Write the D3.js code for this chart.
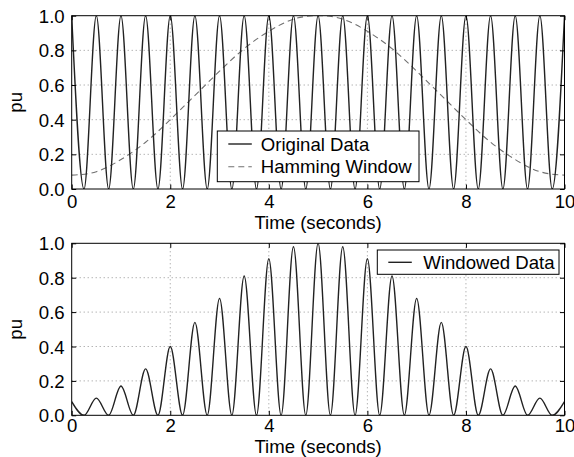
<!DOCTYPE html>
<html>
<head>
<meta charset="utf-8">
<script src="https://cdn.jsdelivr.net/npm/d3@7"></script>
<style>
  html, body { margin: 0; padding: 0; background: #fff; }
  svg { display: block; }
  text { font-family: "Liberation Sans", Arial, Helvetica, sans-serif; fill: #000; }
</style>
</head>
<body>
<svg id="chart" width="574" height="457"></svg>
<script>
// Signal extrema: peaks every 0.5 s, troughs half-way between them
const peakTimes = [0, 0.5, 1, 1.5, 2, 2.5, 3, 3.5, 4, 4.5, 5, 5.5, 6, 6.5, 7, 7.5, 8, 8.5, 9, 9.5, 10];
const troughTimes = [0.25, 0.75, 1.25, 1.75, 2.25, 2.75, 3.25, 3.75, 4.25, 4.75,
                     5.25, 5.75, 6.25, 6.75, 7.25, 7.75, 8.25, 8.75, 9.25, 9.75];

// Original data: full-scale oscillation between 0 and 1 pu
const originalPeaks = [1, 1, 1, 1, 1, 1, 1, 1, 1, 1, 1, 1, 1, 1, 1, 1, 1, 1, 1, 1, 1];
const originalTroughs = [0, 0, 0, 0, 0, 0, 0, 0, 0, 0, 0, 0, 0, 0, 0, 0, 0, 0, 0, 0];

// Hamming window, sampled at the peak times
const hammingValues = [0.08, 0.10, 0.17, 0.27, 0.40, 0.54, 0.68, 0.81, 0.91, 0.98, 1.00,
                       0.98, 0.91, 0.81, 0.68, 0.54, 0.40, 0.27, 0.17, 0.10, 0.08];

// Windowed data envelope peaks and troughs
const windowedPeaks = [0.08, 0.10, 0.17, 0.27, 0.40, 0.54, 0.68, 0.81, 0.91, 0.98, 1.00,
                       0.98, 0.91, 0.81, 0.68, 0.54, 0.40, 0.27, 0.17, 0.10, 0.08];
const windowedTroughs = [0, 0, 0, 0, 0, 0, 0, 0, 0, 0, 0, 0, 0, 0, 0, 0, 0, 0, 0, 0];

const xTicks = [0, 2, 4, 6, 8, 10];
const yTicks = [0, 0.2, 0.4, 0.6, 0.8, 1.0];
const xLabel = "Time (seconds)";
const yLabel = "pu";

// Merge peaks and troughs into one time-ordered series
function extremaSeries(peaks, troughs) {
  const pts = peakTimes.map((t, i) => [t, peaks[i]])
    .concat(troughTimes.map((t, i) => [t, troughs[i]]));
  return pts.sort((a, b) => a[0] - b[0]);
}

const svg = d3.select("#chart");
const left = 71.7, right = 564.5;
const panels = [
  { top: 15.7, bottom: 189, tickOffset: 19, labelOffset: 40 },
  { top: 243.3, bottom: 415.3, tickOffset: 17.2, labelOffset: 37.8 }
];

const FONT = 18.6;
const FAMILY = '"Liberation Sans", Arial, sans-serif';

function drawPanel(p, idx, lines, legend) {
  const x = d3.scaleLinear().domain([0, 10]).range([left, right]);
  const y = d3.scaleLinear().domain([0, 1]).range([p.bottom, p.top]);
  const g = svg.append("g");

  const clipId = "clip" + idx;
  svg.append("clipPath").attr("id", clipId)
    .append("rect").attr("x", left).attr("y", p.top)
    .attr("width", right - left).attr("height", p.bottom - p.top);

  // dotted grid
  const grid = g.append("g").attr("stroke", "#888").attr("stroke-width", 0.9)
    .attr("stroke-dasharray", "1,3");
  xTicks.slice(1, -1).forEach(t => {
    grid.append("line").attr("x1", x(t)).attr("x2", x(t))
      .attr("y1", p.top).attr("y2", p.bottom);
  });
  yTicks.slice(1, -1).forEach(t => {
    grid.append("line").attr("x1", left).attr("x2", right)
      .attr("y1", y(t)).attr("y2", y(t));
  });

  // data lines
  const lg = g.append("g").attr("clip-path", `url(#${clipId})`);
  lines.forEach(l => {
    lg.append("path").datum(l.data)
      .attr("fill", "none")
      .attr("stroke", l.color)
      .attr("stroke-width", l.width)
      .attr("stroke-dasharray", l.dash || null)
      .attr("d", d3.line().x(d => x(d[0])).y(d => y(d[1])).curve(l.curve));
  });

  // axes with inward ticks on all four sides
  const tickLen = 4.5;
  const axB = d3.axisBottom(x).tickValues(xTicks).tickSizeInner(-tickLen).tickSizeOuter(0)
    .tickPadding(8).tickFormat(d3.format("d"));
  const axT = d3.axisTop(x).tickValues(xTicks).tickSizeInner(-tickLen).tickSizeOuter(0).tickFormat("");
  const axL = d3.axisLeft(y).tickValues(yTicks).tickSizeInner(-tickLen).tickSizeOuter(0)
    .tickPadding(7).tickFormat(d3.format(".1f"));
  const axR = d3.axisRight(y).tickValues(yTicks).tickSizeInner(-tickLen).tickSizeOuter(0).tickFormat("");

  function style(sel) {
    sel.selectAll(".domain").remove();
    sel.selectAll(".tick line").attr("stroke", "#000").attr("stroke-width", 1);
    sel.selectAll(".tick text").style("font-size", FONT + "px")
      .style("font-family", FAMILY).attr("fill", "#000");
  }
  g.append("g").attr("transform", `translate(0,${p.bottom})`).call(axB).call(style)
    .selectAll(".tick text").attr("dy", "0").attr("y", p.tickOffset);
  g.append("g").attr("transform", `translate(0,${p.top})`).call(axT).call(style);
  g.append("g").attr("transform", `translate(${left},0)`).call(axL).call(style)
    .selectAll(".tick text").attr("dy", "0.35em");
  g.append("g").attr("transform", `translate(${right},0)`).call(axR).call(style);

  // frame
  g.append("rect").attr("x", left).attr("y", p.top)
    .attr("width", right - left).attr("height", p.bottom - p.top)
    .attr("fill", "none").attr("stroke", "#000").attr("stroke-width", 1);

  // axis labels
  g.append("text").attr("x", (left + right) / 2).attr("y", p.bottom + p.labelOffset)
    .attr("text-anchor", "middle").style("font-size", FONT + "px").text(xLabel);
  g.append("text")
    .attr("transform", `translate(22,${(p.top + p.bottom) / 2}) rotate(-90)`)
    .attr("text-anchor", "middle").style("font-size", FONT + "px").text(yLabel);

  // legend
  const lgd = g.append("g");
  lgd.append("rect").attr("x", legend.x).attr("y", legend.y)
    .attr("width", legend.w).attr("height", legend.h)
    .attr("fill", "#fff").attr("stroke", "#000").attr("stroke-width", 1);
  legend.items.forEach((it, i) => {
    const cy = legend.y + legend.rowStart + i * legend.rowGap;
    lgd.append("line").attr("x1", legend.x + 11).attr("x2", legend.x + 34.5)
      .attr("y1", cy).attr("y2", cy)
      .attr("stroke", it.color).attr("stroke-width", it.width)
      .attr("stroke-dasharray", it.dash || null);
    lgd.append("text").attr("x", legend.x + legend.textOffset).attr("y", cy).attr("dy", "0.35em")
      .style("font-size", FONT + "px").text(it.label);
  });
}

const original = extremaSeries(originalPeaks, originalTroughs);
const hamming = peakTimes.map((t, i) => [t, hammingValues[i]]);
const windowed = extremaSeries(windowedPeaks, windowedTroughs);

drawPanel(panels[0], 0, [
  { data: hamming, color: "#707070", width: 1.1, dash: "6,4", curve: d3.curveNatural },
  { data: original, color: "#222", width: 1.4, curve: d3.curveMonotoneX }
], {
  x: 217.3, y: 131, w: 201.7, h: 50.7, rowStart: 13, rowGap: 22.7, textOffset: 43.5,
  items: [
    { label: "Original Data", color: "#222", width: 1.4 },
    { label: "Hamming Window", color: "#707070", width: 1.1, dash: "6,4" }
  ]
});

drawPanel(panels[1], 1, [
  { data: windowed, color: "#222", width: 1.4, curve: d3.curveMonotoneX }
], {
  x: 377.3, y: 250, w: 181.7, h: 24.3, rowStart: 12.3, rowGap: 0, textOffset: 46,
  items: [
    { label: "Windowed Data", color: "#222", width: 1.4 }
  ]
});
</script>
</body>
</html>
